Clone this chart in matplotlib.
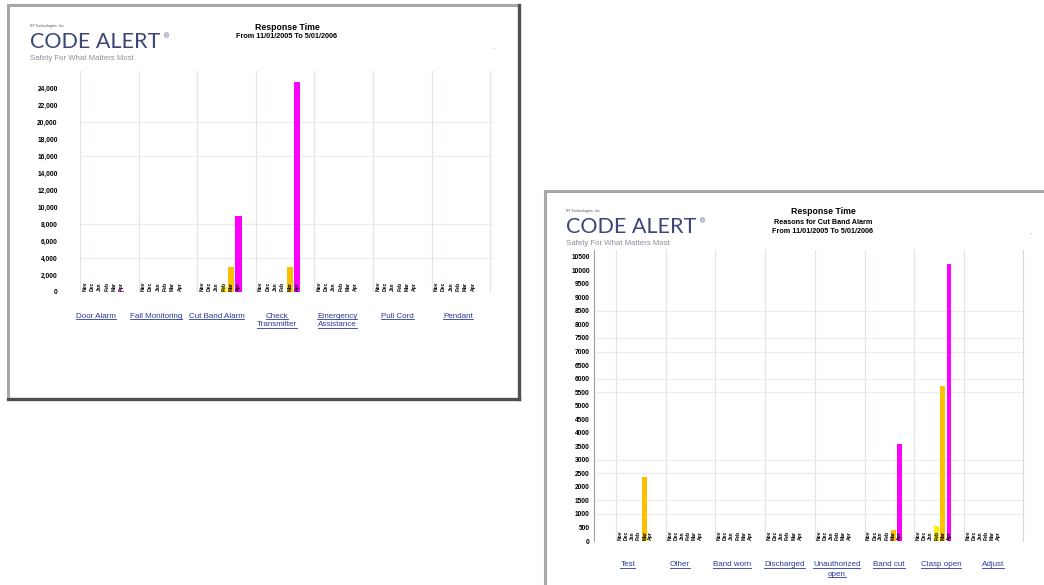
import matplotlib
matplotlib.use("Agg")
import matplotlib.pyplot as plt
from matplotlib.lines import Line2D
from matplotlib.patches import Rectangle
from matplotlib.transforms import IdentityTransform

W, H = 1044, 585

MONTHS = ["Nov", "Dec", "Jan", "Feb", "Mar", "Apr"]
MONTH_COLORS = ["#9999ff", "#993366", "#ffffcc", "#ffee00", "#ffc000", "#ff00ff"]

# ===== 左のチャート: Response Time =====
LEFT_CATEGORIES = [["Door Alarm"], ["Fall Monitoring"], ["Cut Band Alarm"], ["Check", "Transmitter"],
                   ["Emergency", "Assistance"], ["Pull Cord"], ["Pendant"]]
LEFT_VALUES = [
    [0, 0, 0, 0, 0, 80],
    [0, 0, 0, 0, 0, 0],
    [0, 0, 0, 550, 2980, 8980],
    [0, 0, 0, 0, 2980, 24670],
    [0, 0, 0, 0, 0, 0],
    [0, 0, 0, 0, 0, 0],
    [0, 0, 0, 0, 0, 0],
]
LEFT_YTICKS = list(range(0, 24001, 2000))
LEFT_GRID = [4000, 8000, 16000, 20000]

# ===== 右のチャート: Reasons for Cut Band Alarm =====
RIGHT_CATEGORIES = [["Test"], ["Other"], ["Band worn"], ["Discharged"], ["Unauthorized", "open"],
                    ["Band cut"], ["Clasp open"], ["Adjust"]]
RIGHT_VALUES = [
    [0, 0, 0, 0, 2380, 0],
    [0, 0, 0, 0, 0, 0],
    [0, 0, 0, 0, 0, 0],
    [0, 0, 0, 0, 0, 0],
    [0, 0, 0, 0, 0, 0],
    [0, 0, 0, 0, 420, 3570],
    [0, 0, 0, 560, 5730, 10230],
    [0, 0, 0, 0, 0, 0],
]
RIGHT_YTICKS = list(range(0, 10501, 500))
RIGHT_GRID = [1000, 1500, 2500, 3000, 5500, 6000, 7000, 7500, 8500]

FONT = ["Liberation Sans", "DejaVu Sans"]
LINK_COLOR = "#28389a"
LOGO_COLOR = "#3c4678"


def px_box(x0, y0, x1, y1):
    return [x0 / W, 1 - y1 / H, (x1 - x0) / W, (y1 - y0) / H]


def draw_frame(fig, x0, y0, x1, y1, light, dark=None):
    fig.add_artist(Rectangle((x0 / W, 1 - y1 / H), (x1 - x0) / W, (y1 - y0) / H,
                             transform=fig.transFigure, fill=False, ec=light, lw=2.2))
    if dark:
        fig.add_artist(Line2D([x1 / W, x1 / W], [1 - y0 / H, 1 - y1 / H], transform=fig.transFigure, color=dark, lw=2.4))
        fig.add_artist(Line2D([x0 / W, x1 / W], [1 - y1 / H, 1 - y1 / H], transform=fig.transFigure, color=dark, lw=2.4))


def draw_header(fig, lx, ly, cx, title_lines, dot):
    # ロゴ
    fig.text(lx / W, 1 - ly / H, "RF Technologies, Inc.", fontsize=2.6, color="#555555", family=FONT)
    fig.text(lx / W, 1 - (ly + 21) / H, "CODE ALERT", fontsize=15.5, color=LOGO_COLOR,
             family=["Lato", "DejaVu Sans"], fontweight="normal")
    fig.text((lx + 134) / W, 1 - (ly + 11) / H, "®", fontsize=5, color=LOGO_COLOR, family=FONT)
    fig.text(lx / W, 1 - (ly + 31) / H, "Safety For What Matters Most", fontsize=5.6, color="#8c8c9a",
             family=FONT, va="center")
    # タイトル
    for t, y, fs in title_lines:
        fig.text(cx / W, 1 - y / H, t, fontsize=fs, fontweight="bold", ha="center", va="center", family=FONT)
    fig.text(dot[0] / W, 1 - dot[1] / H, "·", fontsize=5, color="#888888", ha="center", va="center")


def draw_chart(fig, box, categories, values, yticks, grid, ymax, xlim, offset, spacing, width,
               label_start, label_step, tick_pad, ticklabels, show_axis, n_sep):
    ax = fig.add_axes(px_box(*box))
    for i, vals in enumerate(values):
        for j, v in enumerate(vals):
            x = i + offset + j * spacing
            if v > 0:
                ax.bar(x, v, width=width, color=MONTH_COLORS[j], zorder=2)
            ax.annotate(MONTHS[j], xy=(x, 0), xycoords=("data", "axes fraction"), xytext=(0, 1),
                        textcoords="offset pixels", rotation=90, ha="center", va="bottom",
                        fontsize=3.6, fontweight="bold", family=FONT, zorder=3)
    for s in range(n_sep):
        ax.axvline(s, color="#dfe9e2", lw=0.9, zorder=0)
    for g in grid:
        ax.axhline(g, color="#ececec", lw=0.9, zorder=0)
    ax.set_xlim(*xlim)
    ax.set_ylim(0, ymax)
    ax.set_yticks(yticks)
    ax.set_yticklabels(ticklabels, fontsize=4.8, fontweight="bold", family=FONT)
    ax.tick_params(axis="y", length=0, pad=tick_pad)
    ax.set_xticks([])
    for sp in ax.spines.values():
        sp.set_visible(False)
    if show_axis:
        ax.spines["left"].set_visible(True)
        ax.spines["left"].set_color("#a0a0a0")
        ax.spines["right"].set_visible(True)
        ax.spines["right"].set_color("#d8d8d8")

    # カテゴリ名（下線付きリンク風）
    labels = []
    for i, lines in enumerate(categories):
        x = label_start + i * label_step
        for k, line in enumerate(lines):
            t = ax.annotate(line, xy=(x, 0), xycoords=("data", "axes fraction"), xytext=(0, -24 - 9 * k),
                            textcoords="offset pixels", ha="center", va="center", fontsize=5.8,
                            color=LINK_COLOR, family=FONT)
            labels.append(t)
    return labels


def main_process():
    fig = plt.figure(figsize=(W / 100, H / 100), dpi=100)
    fig.patch.set_facecolor("white")

    # 枠
    draw_frame(fig, 8, 5, 519, 399, "#a8a8a8", "#505050")
    draw_frame(fig, 545, 191, 1060, 610, "#a8a8a8")

    # 左
    draw_header(fig, 30, 27, 287,
                [("Response Time", 27, 6.3), ("From 11/01/2005 To 5/01/2006", 37, 5.2)], (493, 49))
    left_labels = draw_chart(
        fig, (80, 71, 493, 292), LEFT_CATEGORIES, LEFT_VALUES, LEFT_YTICKS, LEFT_GRID, 26000,
        (0, 413 / 58.6), 0.08, 0.125, 0.105, 0.27, 1.03, 16,
        [f"{v:,}" for v in LEFT_YTICKS], False, 8)

    # 右
    draw_header(fig, 566, 212, 823,
                [("Response Time", 212, 6.3), ("Reasons for Cut Band Alarm", 222, 5.2),
                 ("From 11/01/2005 To 5/01/2006", 231.5, 5.2)], (1030, 234))
    right_labels = draw_chart(
        fig, (594, 250, 1023, 541), RIGHT_CATEGORIES, RIGHT_VALUES, RIGHT_YTICKS, RIGHT_GRID, 10750,
        (-22 / 49.7, 407 / 49.7), 0.08, 0.124, 0.1, 0.24, 1.05, 3,
        [str(v) for v in RIGHT_YTICKS], True, 8)

    # 下線
    fig.canvas.draw()
    renderer = fig.canvas.get_renderer()
    for t in left_labels + right_labels:
        bb = t.get_window_extent(renderer)
        fig.add_artist(Line2D([bb.x0, bb.x1], [bb.y0 + 1, bb.y0 + 1], transform=IdentityTransform(),
                              color=LINK_COLOR, lw=0.6))

    plt.savefig("out.png", dpi=100)
    plt.close()


if __name__ == "__main__":
    main_process()
